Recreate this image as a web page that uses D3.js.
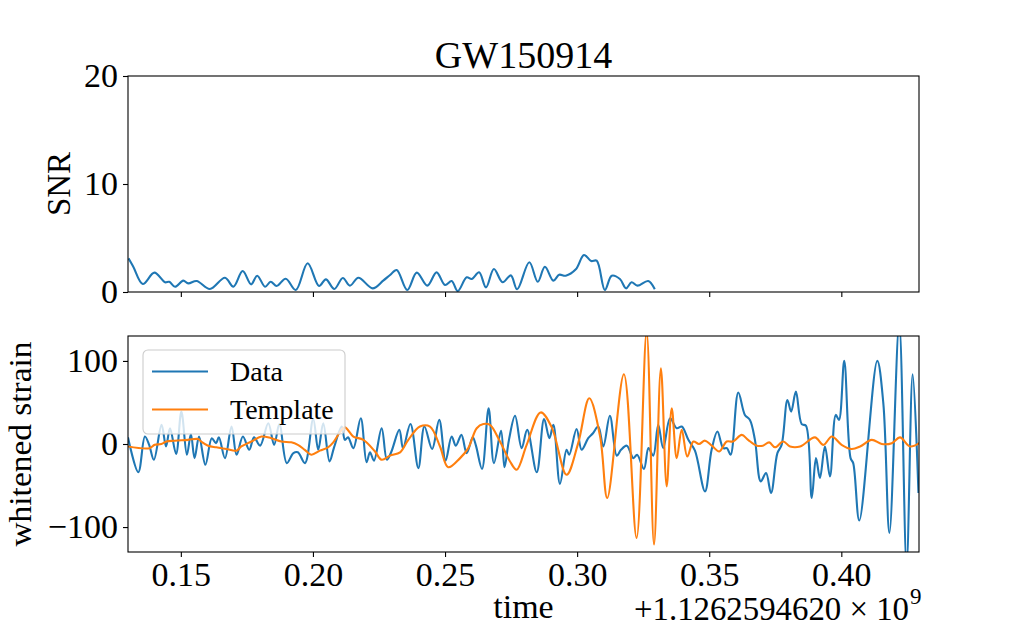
<!DOCTYPE html>
<html>
<head>
<meta charset="utf-8">
<script src="https://cdn.jsdelivr.net/npm/d3@7"></script>
<style>
  html, body { margin: 0; padding: 0; background: #fff; }
  svg { display: block; }
  text { font-family: "Liberation Serif", "DejaVu Serif", serif; fill: #000; }
</style>
</head>
<body>
<svg id="chart" width="1021" height="631"></svg>
<script>
// ---------------- data (time offset in s, relative to 1.1262594620e9) ----------------
const chartTitle = "GW150914";
const xTicks = [0.15, 0.20, 0.25, 0.30, 0.35, 0.40];
const snrTicks = [0, 10, 20];
const strainTicks = [-100, 0, 100];
const seriesNames = ["Data", "Template"];
const offsetLabel = "+1.1262594620 \u00d7 10";
const offsetExp = "9";

const snrTime = [0.1304,0.1320,0.1356,0.1400,0.1440,0.1456,0.1478,0.1509,0.1528,0.1560,0.1610,0.1667,0.1699,0.1734,0.1766,0.1789,0.1819,0.1840,0.1863,0.1897,0.1935,0.1980,0.2023,0.2049,0.2081,0.2113,0.2140,0.2172,0.2226,0.2266,0.2292,0.2317,0.2357,0.2393,0.2433,0.2468,0.2500,0.2525,0.2548,0.2582,0.2601,0.2629,0.2655,0.2685,0.2718,0.2749,0.2773,0.2819,0.2851,0.2878,0.2910,0.2932,0.2957,0.2995,0.3026,0.3053,0.3074,0.3105,0.3131,0.3162,0.3185,0.3206,0.3228,0.3269,0.3292];
const snrValue = [3.03,2.34,0.74,1.79,0.90,0.95,0.49,1.05,0.80,1.02,0.28,1.32,0.49,1.94,0.71,1.51,0.49,0.95,0.56,1.23,0.19,2.66,0.56,1.17,0.28,1.30,0.59,1.32,0.34,1.05,1.57,2.04,0.19,1.79,0.59,1.82,0.65,1.02,0.09,1.36,1.20,1.82,0.43,2.13,0.90,1.54,0.25,2.75,0.95,2.34,1.05,1.60,1.51,2.10,3.43,2.87,2.90,0.19,1.51,1.20,0.34,0.90,0.59,1.02,0.34];

const dataTime = [0.1300,0.1339,0.1364,0.1380,0.1398,0.1427,0.1444,0.1459,0.1482,0.1502,0.1523,0.1538,0.1552,0.1569,0.1593,0.1617,0.1633,0.1644,0.1667,0.1692,0.1711,0.1735,0.1759,0.1777,0.1800,0.1831,0.1853,0.1873,0.1901,0.1926,0.1943,0.1970,0.2001,0.2020,0.2039,0.2063,0.2080,0.2109,0.2121,0.2133,0.2153,0.2181,0.2203,0.2216,0.2231,0.2260,0.2280,0.2296,0.2327,0.2341,0.2369,0.2399,0.2422,0.2451,0.2478,0.2502,0.2525,0.2541,0.2562,0.2582,0.2605,0.2617,0.2640,0.2665,0.2685,0.2712,0.2725,0.2742,0.2765,0.2790,0.2811,0.2847,0.2875,0.2895,0.2910,0.2935,0.2960,0.2970,0.2998,0.3017,0.3042,0.3060,0.3080,0.3099,0.3124,0.3150,0.3166,0.3188,0.3213,0.3227,0.3253,0.3270,0.3288,0.3307,0.3326,0.3352,0.3377,0.3396,0.3421,0.3446,0.3484,0.3509,0.3531,0.3553,0.3567,0.3581,0.3610,0.3635,0.3654,0.3673,0.3695,0.3715,0.3734,0.3758,0.3774,0.3796,0.3810,0.3828,0.3850,0.3866,0.3888,0.3904,0.3919,0.3938,0.3957,0.3979,0.3991,0.4011,0.4035,0.4045,0.4068,0.4136,0.4159,0.4182,0.4219,0.4247,0.4270,0.4292];
const dataStrain = [8,-34,9,-1,-19,23,-3,19,-12,39,-13,12,-17,9,-25,7,1,8,-17,21,-13,9,-7,8,-2,25,-1,24,-23,-11,-10,-23,30,-7,25,-21,-4,21,5,8,-5,31,-22,-10,-20,19,-19,-10,17,-5,24,-29,21,-6,29,-20,9,-2,11,-11,8,-2,-30,43,-23,16,-28,5,34,-5,17,-34,30,7,23,-48,-7,-13,18,-7,7,13,21,-3,34,-14,-7,-2,-17,-13,-30,-5,-14,23,-5,31,19,21,5,-8,-57,-7,15,-5,-5,-13,62,35,29,5,-45,-35,-59,-11,-1,53,39,63,24,22,-65,-17,-41,-3,-39,35,29,100,-17,-23,-92,100,49,-107,145,-145,84,-59];

const templateTime = [0.1300,0.1382,0.1401,0.1426,0.1445,0.1477,0.1527,0.1565,0.1577,0.1603,0.1634,0.1672,0.1710,0.1729,0.1767,0.1805,0.1842,0.1880,0.1918,0.1943,0.1969,0.1994,0.2026,0.2057,0.2077,0.2102,0.2121,0.2153,0.2191,0.2235,0.2260,0.2292,0.2330,0.2361,0.2405,0.2443,0.2481,0.2512,0.2557,0.2588,0.2620,0.2645,0.2670,0.2708,0.2746,0.2771,0.2809,0.2862,0.2904,0.2960,0.3004,0.3046,0.3087,0.3114,0.3177,0.3225,0.3263,0.3291,0.3317,0.3339,0.3358,0.3377,0.3396,0.3417,0.3440,0.3461,0.3484,0.3510,0.3538,0.3566,0.3590,0.3623,0.3647,0.3680,0.3703,0.3727,0.3749,0.3780,0.3806,0.3844,0.3900,0.3932,0.3964,0.4001,0.4039,0.4071,0.4115,0.4153,0.4191,0.4222,0.4260,0.4295];
const templateStrain = [-3,-5,-1,0,3,4,5,6,3,-2,-4,-6,-8,-3,3,9,7,3,2,-1,-7,-13,-8,-4,2,14,20,9,5,-9,-19,-14,-10,5,21,21,-3,-28,-17,-5,19,24,23,3,-21,-31,-1,38,20,-37,1,55,9,-65,84,-113,135,-121,91,-51,43,-17,17,-15,3,0,4,-2,-9,3,3,11,5,-2,-2,2,-4,3,-3,-3,8,-1,9,-1,-6,-3,5,0,1,8,-3,1];

// ---------------- layout ----------------
const svg = d3.select("#chart");
const L = 128, R = 919;
const top1 = 76, bot1 = 292;
const top2 = 336, bot2 = 552;
const blue = "#1f77b4", orange = "#ff7f0e";
const tickFont = 34;

const x = d3.scaleLinear().domain([0.13, 0.4294]).range([L, R]);
const ySnr = d3.scaleLinear().domain([0, 20]).range([bot1, top1]);
const yStr = d3.scaleLinear().domain([-130, 130]).range([bot2, top2]);

const defs = svg.append("defs");
defs.append("clipPath").attr("id", "clip1").append("rect")
  .attr("x", L).attr("y", top1).attr("width", R - L).attr("height", bot1 - top1);
defs.append("clipPath").attr("id", "clip2").append("rect")
  .attr("x", L).attr("y", top2).attr("width", R - L).attr("height", bot2 - top2);

const curve = d3.curveCatmullRom.alpha(0.5);

// ---- top panel: SNR ----
const snrLine = d3.line().x((d, i) => x(snrTime[i])).y(d => ySnr(d)).curve(curve);
svg.append("path").attr("clip-path", "url(#clip1)")
  .attr("d", snrLine(snrValue))
  .attr("fill", "none").attr("stroke", blue).attr("stroke-width", 2.1)
  .attr("stroke-linejoin", "round").attr("stroke-linecap", "square");

// ---- bottom panel ----
const dataLine = d3.line().x((d, i) => x(dataTime[i])).y(d => yStr(d)).curve(curve);
const tmplLine = d3.line().x((d, i) => x(templateTime[i])).y(d => yStr(d)).curve(curve);
const g2 = svg.append("g").attr("clip-path", "url(#clip2)");
g2.append("path").attr("d", dataLine(dataStrain))
  .attr("fill", "none").attr("stroke", blue).attr("stroke-width", 2.1).attr("stroke-linejoin", "round");
g2.append("path").attr("d", tmplLine(templateStrain))
  .attr("fill", "none").attr("stroke", orange).attr("stroke-width", 2.1).attr("stroke-linejoin", "round");

// ---- axes ----
function styleAxis(g) {
  g.select(".domain").remove();
  g.selectAll(".tick line").attr("stroke", "#000").attr("stroke-width", 1.1);
  g.selectAll(".tick text").attr("font-size", tickFont).attr("font-family", "Liberation Serif, serif").attr("fill", "#000");
}
// top panel
svg.append("g").attr("transform", `translate(0,${bot1})`)
  .call(d3.axisBottom(x).tickValues(xTicks).tickSize(5).tickFormat(""))
  .call(styleAxis);
svg.append("g").attr("transform", `translate(${L},0)`)
  .call(d3.axisLeft(ySnr).tickValues(snrTicks).tickSize(5).tickPadding(5).tickFormat(d3.format("d")))
  .call(styleAxis);
// bottom panel
svg.append("g").attr("transform", `translate(0,${bot2})`)
  .call(d3.axisBottom(x).tickValues(xTicks).tickSize(5).tickPadding(5).tickFormat(d3.format(".2f")))
  .call(styleAxis)
  .selectAll(".tick text").attr("dy", "0.72em");
svg.append("g").attr("transform", `translate(${L},0)`)
  .call(d3.axisLeft(yStr).tickValues(strainTicks).tickSize(5).tickPadding(5).tickFormat(d3.format("d")))
  .call(styleAxis);

// frames
[[top1, bot1], [top2, bot2]].forEach(([t, b]) => {
  svg.append("rect").attr("x", L).attr("y", t).attr("width", R - L).attr("height", b - t)
    .attr("fill", "none").attr("stroke", "#000").attr("stroke-width", 1.1);
});

// ---- legend ----
const lg = svg.append("g");
lg.append("rect").attr("x", 143).attr("y", 350).attr("width", 202).attr("height", 84).attr("rx", 5)
  .attr("fill", "#fff").attr("fill-opacity", 0.8).attr("stroke", "#cccccc").attr("stroke-width", 1.1);
[blue, orange].forEach((c, i) => {
  const yy = 371.5 + i * 38;
  lg.append("line").attr("x1", 152).attr("x2", 208).attr("y1", yy).attr("y2", yy)
    .attr("stroke", c).attr("stroke-width", 2.1);
  lg.append("text").attr("x", 230).attr("y", yy + 9).attr("font-size", 28).text(seriesNames[i]);
});

// ---- labels ----
svg.append("text").attr("x", (L + R) / 2).attr("y", 68).attr("text-anchor", "middle")
  .attr("font-size", 38).text(chartTitle);
svg.append("text").attr("transform", `translate(70,${(top1 + bot1) / 2}) rotate(-90)`)
  .attr("text-anchor", "middle").attr("font-size", 33).text("SNR");
svg.append("text").attr("transform", `translate(31,${(top2 + bot2) / 2}) rotate(-90)`)
  .attr("text-anchor", "middle").attr("font-size", 32).attr("textLength", 205).attr("lengthAdjust", "spacingAndGlyphs")
  .text("whitened strain");
svg.append("text").attr("x", (L + R) / 2).attr("y", 618).attr("text-anchor", "middle")
  .attr("font-size", 34).text("time");
svg.append("text").attr("x", 909).attr("y", 620).attr("text-anchor", "end").attr("font-size", 33)
  .attr("textLength", 275).attr("lengthAdjust", "spacingAndGlyphs").text(offsetLabel);
svg.append("text").attr("x", 910).attr("y", 604).attr("font-size", 23).text(offsetExp);
</script>
</body>
</html>
